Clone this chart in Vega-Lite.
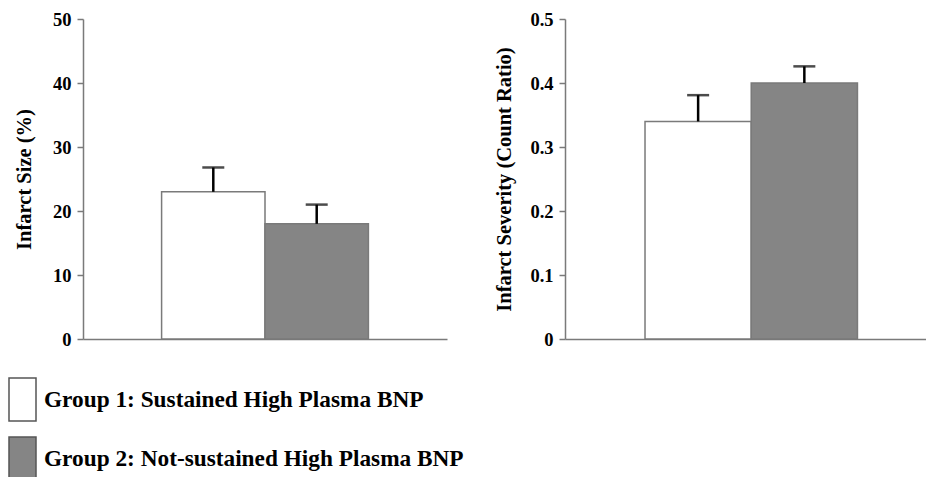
{
  "$schema": "https://vega.github.io/schema/vega-lite/v6.json",
  "padding": {"left": 0, "top": 10, "right": 0, "bottom": 0},
  "background": "white",
  "config": {
    "view": {"stroke": null},
    "font": "Liberation Serif",
    "axis": {
      "domainColor": "#7a7a7a",
      "domainWidth": 1.5,
      "tickColor": "#7a7a7a",
      "tickWidth": 1.5,
      "tickSize": 6,
      "grid": false,
      "labelFont": "Liberation Serif",
      "labelFontSize": 18.5,
      "labelFontWeight": "bold",
      "labelColor": "black",
      "labelPadding": 6,
      "titleFont": "Liberation Serif",
      "titleFontSize": 20.5,
      "titleFontWeight": "bold",
      "titleColor": "black"
    },
    "legend": {
      "labelFont": "Liberation Serif",
      "labelFontSize": 23.3,
      "labelFontWeight": "bold",
      "labelColor": "black",
      "symbolType": "M-0.628,-1H0.628V1H-0.628Z",
      "symbolSize": 1849,
      "symbolStrokeColor": "#555555",
      "symbolStrokeWidth": 1.5,
      "rowPadding": 10,
      "labelOffset": -1,
      "padding": 0,
      "labelLimit": 600
    }
  },
  "datasets": {
    "size": [
      {"group": "Group 1: Sustained High Plasma BNP", "value": 23.0, "upper": 26.8},
      {"group": "Group 2: Not-sustained High Plasma BNP", "value": 18.0, "upper": 21.0}
    ],
    "severity": [
      {"group": "Group 1: Sustained High Plasma BNP", "value": 0.34, "upper": 0.381},
      {"group": "Group 2: Not-sustained High Plasma BNP", "value": 0.40, "upper": 0.426}
    ]
  },
  "spacing": 47,
  "hconcat": [
    {
      "width": 364,
      "height": 320,
      "data": {"name": "size"},
      "encoding": {
        "x": {
          "field": "group", "type": "nominal", "sort": null,
          "scale": {"type": "band", "paddingInner": 0, "paddingOuter": 0.76, "align": 0.5},
          "axis": {"labels": false, "ticks": false, "title": null}
        }
      },
      "layer": [
        {
          "mark": {"type": "bar", "stroke": "#7a7a7a", "strokeWidth": 1.5},
          "encoding": {
            "y": {
              "field": "value", "type": "quantitative",
              "scale": {"domain": [0, 50]},
              "axis": {"values": [0, 10, 20, 30, 40, 50], "title": "Infarct Size (%)", "titlePadding": 18}
            },
            "fill": {
              "field": "group", "type": "nominal", "sort": null,
              "scale": {"range": ["white", "#858585"]},
              "legend": {"orient": "none", "legendX": -83, "legendY": 358, "title": null, "direction": "vertical"}
            }
          }
        },
        {
          "mark": {"type": "rule", "color": "black", "strokeWidth": 2.5},
          "encoding": {"y": {"field": "value", "type": "quantitative"}, "y2": {"field": "upper"}}
        },
        {
          "mark": {"type": "tick", "color": "black", "thickness": 2.5, "size": 22},
          "encoding": {"y": {"field": "upper", "type": "quantitative"}}
        }
      ]
    },
    {
      "width": 362,
      "height": 320,
      "data": {"name": "severity"},
      "encoding": {
        "x": {
          "field": "group", "type": "nominal", "sort": null,
          "scale": {"type": "band", "paddingInner": 0, "paddingOuter": 0.704, "align": 0.535},
          "axis": {"labels": false, "ticks": false, "title": null}
        }
      },
      "layer": [
        {
          "mark": {"type": "bar", "stroke": "#7a7a7a", "strokeWidth": 1.5},
          "encoding": {
            "y": {
              "field": "value", "type": "quantitative",
              "scale": {"domain": [0, 0.5]},
              "axis": {"values": [0, 0.1, 0.2, 0.3, 0.4, 0.5], "format": "~g", "title": "Infarct Severity (Count Ratio)", "titlePadding": 15}
            },
            "fill": {"field": "group", "type": "nominal", "sort": null}
          }
        },
        {
          "mark": {"type": "rule", "color": "black", "strokeWidth": 2.5},
          "encoding": {"y": {"field": "value", "type": "quantitative"}, "y2": {"field": "upper"}}
        },
        {
          "mark": {"type": "tick", "color": "black", "thickness": 2.5, "size": 22},
          "encoding": {"y": {"field": "upper", "type": "quantitative"}}
        }
      ]
    }
  ]
}
